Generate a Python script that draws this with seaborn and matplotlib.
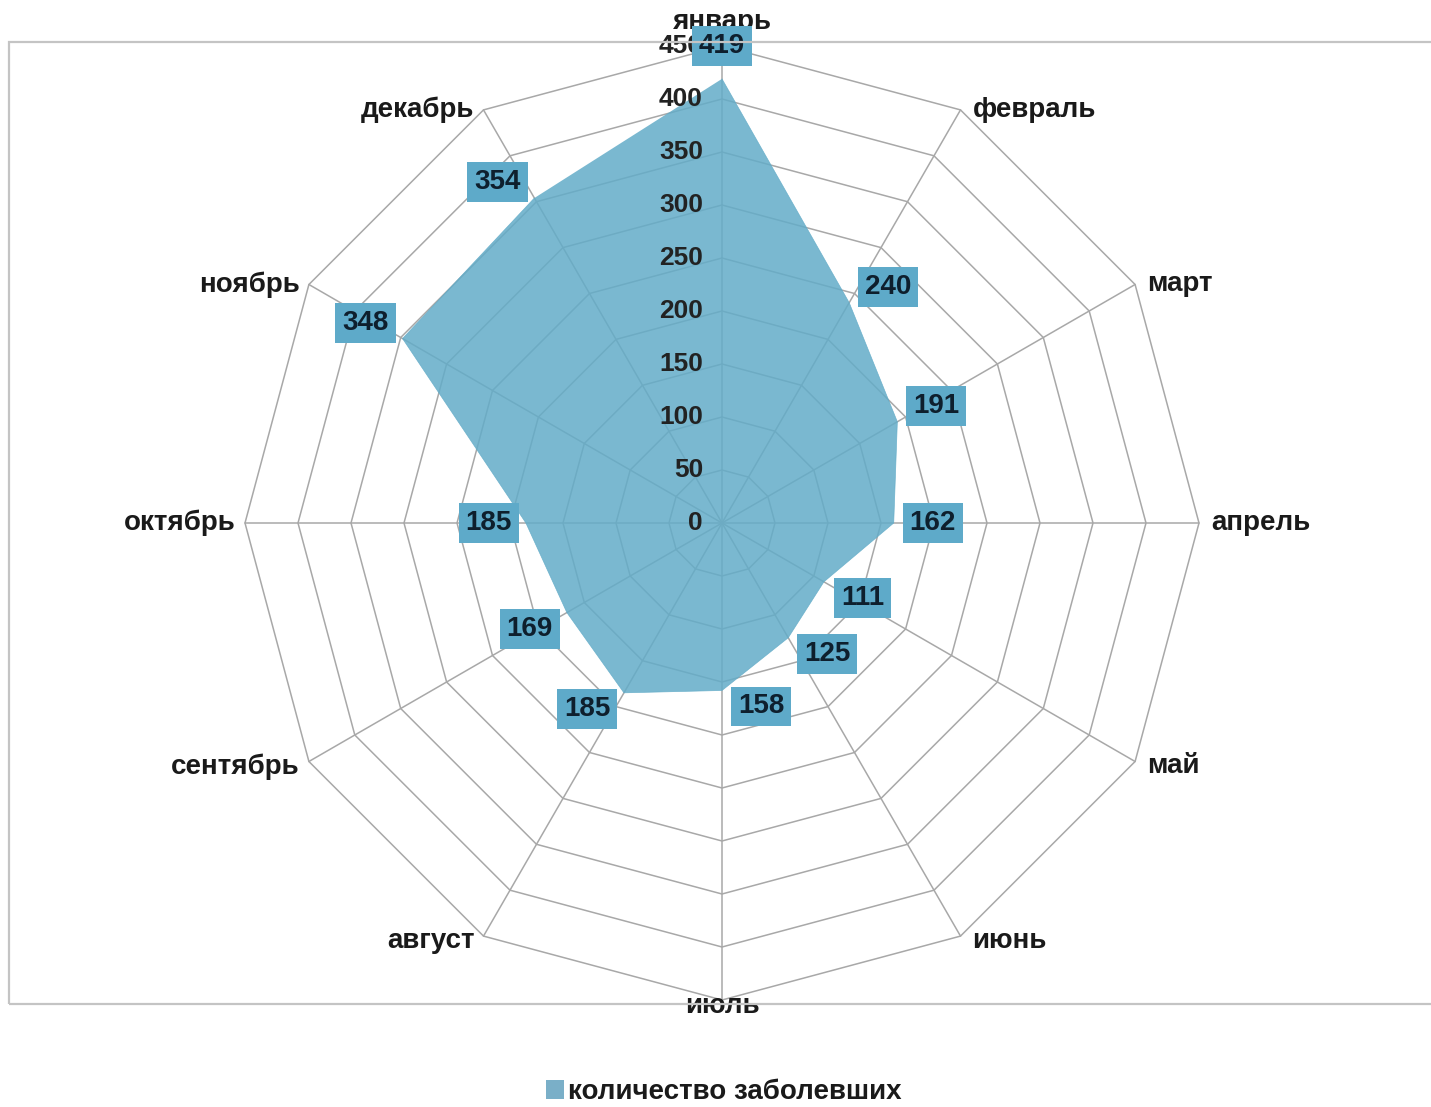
import matplotlib
matplotlib.use('Agg')
import matplotlib.pyplot as plt
import numpy as np
import seaborn as sns
from matplotlib.patches import Patch, Rectangle

# data
months = ['январь', 'февраль', 'март', 'апрель', 'май', 'июнь',
          'июль', 'август', 'сентябрь', 'октябрь', 'ноябрь', 'декабрь']
cases = [419, 240, 191, 162, 111, 125, 158, 185, 169, 185, 348, 354]
r_ticks = [0, 50, 100, 150, 200, 250, 300, 350, 400, 450]
series_name = 'количество заболевших'

fill_color = '#63acc8'
box_color = '#5eaac9'
grid_color = '#a8a8a8'
text_color = '#1a1a1a'

sns.set_theme(style='white')
plt.rcParams['font.family'] = ['Liberation Sans', 'DejaVu Sans']

W, H = 1431, 1107
fig = plt.figure(figsize=(W / 100, H / 100), dpi=100)

# plot area frame (runs off the right edge)
fig.add_artist(Rectangle((9 / W, 1 - 1004 / H), 1.0, (1004 - 42) / H,
                         transform=fig.transFigure, fill=False,
                         edgecolor='#c4c4c4', lw=1.6))

cx, cy, R = 722, 523, 477
ax = fig.add_axes([(cx - R) / W, (H - cy - R) / H, 2 * R / W, 2 * R / H],
                  projection='polar')
ax.set_theta_offset(np.pi / 2)
ax.set_theta_direction(-1)
ax.set_ylim(0, r_ticks[-1])
ax.set_xticks([])
ax.set_yticks([])
ax.grid(False)
ax.spines['polar'].set_visible(False)
ax.patch.set_alpha(0)

n = len(months)
theta = np.arange(n) * 2 * np.pi / n
theta_c = np.append(theta, theta[0])

# polygon grid rings and spokes
for r in r_ticks[1:]:
    ax.plot(theta_c, [r] * (n + 1), color=grid_color, lw=1.1,
            clip_on=False, zorder=1)
for t in theta:
    ax.plot([t, t], [0, r_ticks[-1]], color=grid_color, lw=1.1,
            clip_on=False, zorder=1)

# series area
vals_c = np.append(cases, cases[0])
ax.fill(theta_c, vals_c, color=fill_color, alpha=0.85, lw=0, zorder=2)
sns.lineplot(x=theta_c, y=vals_c, sort=False, ax=ax, color=fill_color,
             lw=0.5, alpha=0.85, zorder=2)

# radial tick labels
for r in r_ticks:
    ax.annotate(str(r), xy=(0, r), xytext=(-19, 0),
                textcoords='offset pixels', ha='right', va='center',
                fontsize=19, fontweight='bold', color='#222222', zorder=3,
                annotation_clip=False)

# month labels
for t, m in zip(theta, months):
    s, c = np.round(np.sin(t), 6), np.round(np.cos(t), 6)
    if s == 0:
        xytext, ha = (0, 24 if c > 0 else -6), 'center'
    else:
        xytext = (12 if s > 0 else -9, -5 if c < 0 else 0)
        ha = 'left' if s > 0 else 'right'
    ax.annotate(m, xy=(t, r_ticks[-1]), xytext=xytext,
                textcoords='offset pixels', ha=ha, va='center',
                fontsize=20, fontweight='bold', color=text_color,
                annotation_clip=False)

# data labels
for t, v in zip(theta, cases):
    s, c = np.round(np.sin(t), 6), np.round(np.cos(t), 6)
    if s == 0 and c > 0:
        off = (0, 33)
    else:
        off = (39 if s >= 0 else -37, 16 * np.sign(c))
    ax.annotate(str(v), xy=(t, v), xytext=off, textcoords='offset pixels',
                ha='center', va='center', fontsize=20, fontweight='bold',
                color='#0e1f2d', zorder=5, annotation_clip=False,
                bbox=dict(boxstyle='square,pad=0.25', facecolor=box_color,
                          edgecolor='none'))

fig.legend(handles=[Patch(facecolor='#7aafc8', edgecolor='none')],
           labels=[series_name], loc='center', bbox_to_anchor=(0.506, 0.0135),
           frameon=False, handlelength=0.65, handleheight=0.65,
           handletextpad=0.15, labelcolor=text_color,
           prop={'size': 20, 'weight': 'bold'})

fig.savefig('out.png', dpi=100)
